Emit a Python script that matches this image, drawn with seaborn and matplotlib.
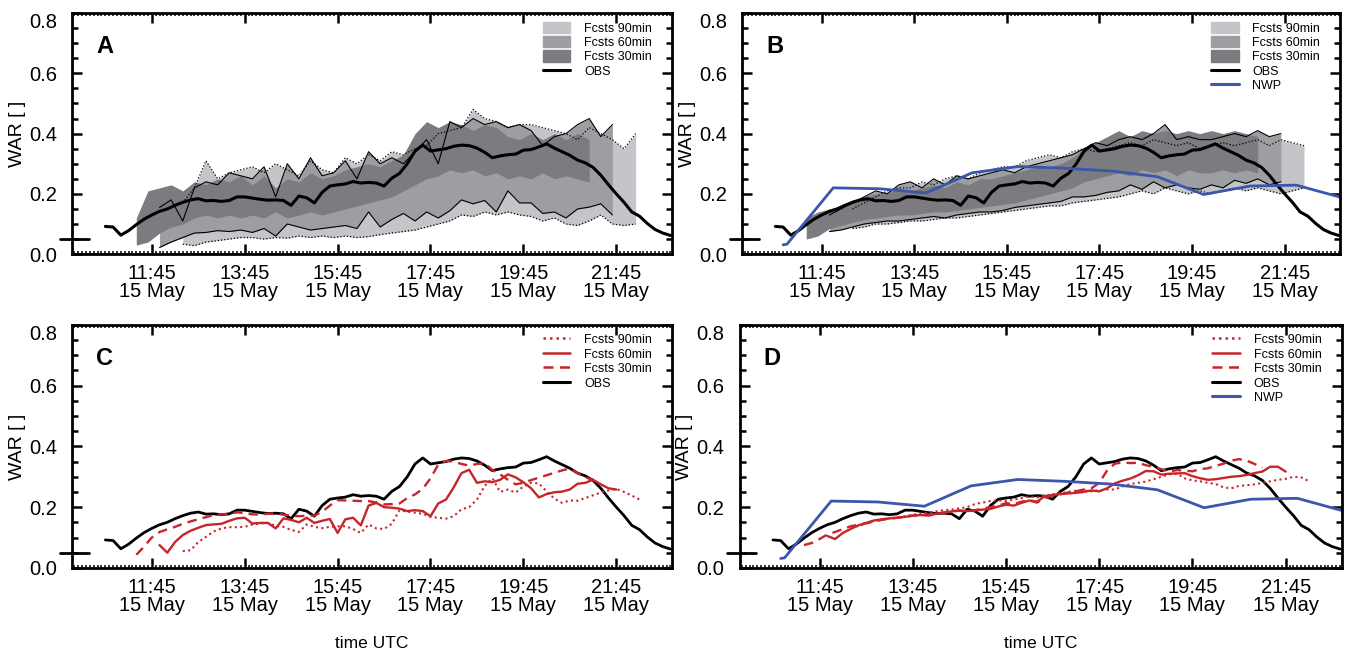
import pandas as pd
import matplotlib
matplotlib.use('Agg')
import matplotlib.pyplot as plt
import matplotlib.dates as mdates
from matplotlib.ticker import MultipleLocator
from matplotlib.patches import Patch
from matplotlib.lines import Line2D
import seaborn as sns

sns.set_style('ticks')
plt.rcParams['font.family'] = ['Liberation Sans', 'DejaVu Sans']
plt.rcParams['text.color'] = 'k'
plt.rcParams['axes.labelcolor'] = 'k'
plt.rcParams['xtick.color'] = 'k'
plt.rcParams['ytick.color'] = 'k'

DAY = '2013-05-15 '

# observed WAR, 10 min steps from 10:45
obs = [0.092, 0.090, 0.063, 0.078, 0.098, 0.116, 0.130, 0.142, 0.150, 0.162,
       0.172, 0.180, 0.184, 0.177, 0.178, 0.175, 0.178, 0.190, 0.190, 0.186,
       0.182, 0.179, 0.180, 0.178, 0.162, 0.193, 0.187, 0.170, 0.205, 0.226,
       0.230, 0.233, 0.241, 0.236, 0.238, 0.236, 0.226, 0.252, 0.268, 0.300,
       0.342, 0.362, 0.342, 0.346, 0.350, 0.358, 0.362, 0.360, 0.352, 0.338,
       0.320, 0.326, 0.330, 0.332, 0.345, 0.347, 0.356, 0.366, 0.352, 0.340,
       0.328, 0.312, 0.303, 0.288, 0.262, 0.230, 0.200, 0.172, 0.140, 0.126,
       0.102, 0.082, 0.070, 0.062]

# NWP (hourly)
nwp_times = ['10:55', '11:00', '12:00', '13:00', '14:00', '15:00', '16:00', '17:00',
             '18:00', '19:00', '20:00', '21:00', '22:00', '23:00']
nwp = [0.031, 0.033, 0.220, 0.217, 0.203, 0.270, 0.291, 0.285, 0.276, 0.257,
       0.198, 0.226, 0.229, 0.187]

# panel A ensemble ranges, 15 min steps (30min from 11:25, 60min from 11:55, 90min from 12:25)
a30_hi = [0.12, 0.21, 0.22, 0.23, 0.21, 0.24, 0.23, 0.25, 0.24, 0.26,
          0.23, 0.26, 0.22, 0.25, 0.24, 0.27, 0.25, 0.26, 0.28, 0.29,
          0.30, 0.29, 0.31, 0.33, 0.40, 0.44, 0.42, 0.44, 0.43, 0.41,
          0.43, 0.42, 0.39, 0.38, 0.40, 0.38, 0.40, 0.38, 0.40, 0.38]
a30_lo = [0.03, 0.04, 0.07, 0.09, 0.10, 0.12, 0.13, 0.12, 0.13, 0.12,
          0.13, 0.12, 0.14, 0.12, 0.13, 0.14, 0.13, 0.14, 0.15, 0.16,
          0.17, 0.18, 0.19, 0.21, 0.23, 0.25, 0.26, 0.28, 0.27, 0.28,
          0.26, 0.27, 0.25, 0.26, 0.25, 0.27, 0.25, 0.26, 0.25, 0.24]
a60_hi = [0.155, 0.18, 0.11, 0.22, 0.24, 0.23, 0.27, 0.26, 0.25, 0.29,
          0.19, 0.30, 0.25, 0.32, 0.26, 0.27, 0.31, 0.25, 0.34, 0.30,
          0.32, 0.30, 0.34, 0.38, 0.30, 0.44, 0.42, 0.45, 0.43, 0.44,
          0.42, 0.43, 0.41, 0.36, 0.39, 0.40, 0.43, 0.45, 0.39, 0.43]
a60_lo = [0.022, 0.04, 0.055, 0.07, 0.072, 0.078, 0.075, 0.08, 0.072, 0.085,
          0.06, 0.10, 0.09, 0.08, 0.085, 0.09, 0.095, 0.085, 0.14, 0.09,
          0.115, 0.135, 0.11, 0.14, 0.12, 0.144, 0.18, 0.167, 0.178, 0.14,
          0.21, 0.17, 0.17, 0.135, 0.14, 0.12, 0.15, 0.156, 0.167, 0.13]
a90_hi = [0.17, 0.22, 0.31, 0.25, 0.27, 0.28, 0.29, 0.27, 0.30, 0.28,
          0.26, 0.31, 0.28, 0.27, 0.32, 0.30, 0.33, 0.31, 0.34, 0.33,
          0.35, 0.36, 0.40, 0.41, 0.42, 0.48, 0.45, 0.44, 0.42, 0.43,
          0.43, 0.42, 0.41, 0.40, 0.38, 0.42, 0.40, 0.38, 0.35, 0.40]
a90_lo = [0.033, 0.028, 0.04, 0.045, 0.05, 0.055, 0.055, 0.05, 0.055, 0.053,
          0.06, 0.055, 0.06, 0.055, 0.06, 0.055, 0.058, 0.065, 0.07, 0.075,
          0.08, 0.09, 0.10, 0.11, 0.13, 0.125, 0.14, 0.13, 0.14, 0.13,
          0.125, 0.11, 0.12, 0.10, 0.095, 0.11, 0.13, 0.10, 0.095, 0.10]

# panel B ensemble ranges (with NWP blending)
b30_hi = [0.12, 0.14, 0.15, 0.16, 0.18, 0.19, 0.20, 0.20, 0.22, 0.21,
          0.22, 0.23, 0.22, 0.24, 0.23, 0.25, 0.25, 0.26, 0.27, 0.28,
          0.29, 0.29, 0.30, 0.32, 0.35, 0.37, 0.39, 0.41, 0.39, 0.41,
          0.40, 0.41, 0.40, 0.41, 0.40, 0.41, 0.40, 0.41, 0.40, 0.39]
b30_lo = [0.05, 0.06, 0.085, 0.095, 0.105, 0.115, 0.12, 0.125, 0.13, 0.13,
          0.135, 0.14, 0.14, 0.145, 0.15, 0.155, 0.16, 0.165, 0.17, 0.18,
          0.19, 0.20, 0.21, 0.22, 0.24, 0.25, 0.26, 0.27, 0.26, 0.28,
          0.27, 0.28, 0.26, 0.28, 0.27, 0.27, 0.28, 0.27, 0.28, 0.27]
b60_hi = [0.13, 0.15, 0.17, 0.19, 0.21, 0.20, 0.23, 0.24, 0.22, 0.25,
          0.23, 0.26, 0.25, 0.26, 0.27, 0.28, 0.27, 0.29, 0.30, 0.31,
          0.32, 0.33, 0.35, 0.37, 0.36, 0.38, 0.39, 0.38, 0.40, 0.43,
          0.38, 0.39, 0.38, 0.38, 0.39, 0.40, 0.39, 0.41, 0.39, 0.40]
b60_lo = [0.075, 0.08, 0.09, 0.10, 0.105, 0.11, 0.11, 0.115, 0.12, 0.125,
          0.12, 0.13, 0.135, 0.14, 0.14, 0.145, 0.155, 0.16, 0.165, 0.17,
          0.175, 0.19, 0.19, 0.195, 0.205, 0.21, 0.23, 0.215, 0.24, 0.22,
          0.23, 0.22, 0.215, 0.23, 0.22, 0.245, 0.235, 0.25, 0.23, 0.24]
b90_hi = [0.15, 0.17, 0.19, 0.21, 0.22, 0.22, 0.24, 0.23, 0.25, 0.26,
          0.25, 0.27, 0.28, 0.29, 0.29, 0.31, 0.32, 0.33, 0.32, 0.34,
          0.35, 0.34, 0.35, 0.36, 0.37, 0.36, 0.38, 0.37, 0.36, 0.37,
          0.35, 0.36, 0.37, 0.36, 0.37, 0.38, 0.36, 0.38, 0.37, 0.36]
b90_lo = [0.085, 0.09, 0.10, 0.10, 0.105, 0.11, 0.11, 0.115, 0.12, 0.12,
          0.125, 0.13, 0.135, 0.14, 0.145, 0.15, 0.155, 0.16, 0.16, 0.17,
          0.175, 0.18, 0.185, 0.19, 0.20, 0.21, 0.20, 0.22, 0.21, 0.20,
          0.21, 0.20, 0.21, 0.22, 0.21, 0.22, 0.21, 0.20, 0.21, 0.22]

# panel C mean forecasts, 10 min steps
c30 = [0.043, 0.070, 0.100, 0.118, 0.127, 0.135, 0.145, 0.153, 0.160, 0.167,
       0.174, 0.176, 0.178, 0.183, 0.180, 0.176, 0.176, 0.178, 0.180, 0.175,
       0.172, 0.170, 0.172, 0.172, 0.185, 0.205, 0.223, 0.222, 0.221, 0.220,
       0.220, 0.215, 0.209, 0.210, 0.212, 0.230, 0.242, 0.260, 0.295, 0.340,
       0.352, 0.350, 0.342, 0.337, 0.342, 0.345, 0.322, 0.308, 0.290, 0.275,
       0.280, 0.289, 0.297, 0.305, 0.313, 0.321, 0.327, 0.312, 0.298, 0.290]
c60 = [0.075, 0.050, 0.085, 0.108, 0.122, 0.132, 0.141, 0.143, 0.145, 0.155,
       0.163, 0.165, 0.146, 0.148, 0.148, 0.130, 0.163, 0.158, 0.150, 0.165,
       0.148, 0.155, 0.161, 0.115, 0.160, 0.165, 0.140, 0.205, 0.214, 0.200,
       0.198, 0.195, 0.187, 0.190, 0.187, 0.170, 0.212, 0.225, 0.265, 0.312,
       0.323, 0.280, 0.285, 0.282, 0.290, 0.308, 0.298, 0.282, 0.262, 0.232,
       0.243, 0.249, 0.251, 0.258, 0.277, 0.280, 0.290, 0.275, 0.262, 0.258]
c90 = [0.055, 0.058, 0.085, 0.102, 0.120, 0.130, 0.134, 0.134, 0.135, 0.143,
       0.146, 0.148, 0.138, 0.135, 0.125, 0.118, 0.143, 0.135, 0.131, 0.135,
       0.137, 0.137, 0.128, 0.115, 0.143, 0.130, 0.128, 0.145, 0.190, 0.185,
       0.182, 0.178, 0.168, 0.165, 0.162, 0.170, 0.193, 0.200, 0.225, 0.270,
       0.295, 0.250, 0.258, 0.248, 0.268, 0.280, 0.278, 0.252, 0.228, 0.214,
       0.222, 0.221, 0.230, 0.239, 0.248, 0.255, 0.260, 0.250, 0.238, 0.225]

# panel D mean forecasts (with NWP blending)
d30 = [0.075, 0.082, 0.095, 0.110, 0.118, 0.128, 0.137, 0.142, 0.147, 0.152,
       0.158, 0.162, 0.165, 0.168, 0.172, 0.174, 0.176, 0.178, 0.182, 0.186,
       0.188, 0.186, 0.190, 0.195, 0.200, 0.205, 0.213, 0.210, 0.218, 0.222,
       0.215, 0.230, 0.238, 0.242, 0.248, 0.252, 0.258, 0.262, 0.280, 0.320,
       0.343, 0.347, 0.345, 0.346, 0.338, 0.333, 0.325, 0.317, 0.322, 0.320,
       0.318, 0.325, 0.328, 0.336, 0.343, 0.353, 0.358, 0.353, 0.342, 0.330]
d60 = [0.105, 0.095, 0.115, 0.128, 0.140, 0.148, 0.156, 0.160, 0.163, 0.165,
       0.168, 0.172, 0.174, 0.172, 0.178, 0.182, 0.186, 0.189, 0.187, 0.189,
       0.192, 0.194, 0.202, 0.208, 0.205, 0.214, 0.222, 0.218, 0.236, 0.240,
       0.243, 0.245, 0.247, 0.250, 0.255, 0.252, 0.262, 0.278, 0.287, 0.294,
       0.305, 0.319, 0.318, 0.307, 0.310, 0.311, 0.312, 0.302, 0.295, 0.290,
       0.292, 0.296, 0.300, 0.302, 0.306, 0.312, 0.317, 0.333, 0.333, 0.317]
d90 = [0.133, 0.138, 0.145, 0.155, 0.160, 0.163, 0.167, 0.170, 0.175, 0.178,
       0.182, 0.186, 0.190, 0.192, 0.196, 0.200, 0.210, 0.215, 0.220, 0.222,
       0.220, 0.225, 0.230, 0.235, 0.232, 0.238, 0.242, 0.246, 0.250, 0.254,
       0.255, 0.252, 0.255, 0.258, 0.258, 0.268, 0.276, 0.280, 0.284, 0.292,
       0.300, 0.308, 0.310, 0.295, 0.288, 0.285, 0.280, 0.276, 0.265, 0.262,
       0.270, 0.272, 0.275, 0.280, 0.285, 0.290, 0.293, 0.300, 0.298, 0.285]

tick_hours = ['11:45', '13:45', '15:45', '17:45', '19:45', '21:45']
date_label = '15 May'
lead_labels = ['Fcsts 90min', 'Fcsts 60min', 'Fcsts 30min']

LIGHT, MED, DARK = '#c3c5c9', '#9c9ea2', '#7b7b80'
RED, BLUE = '#c8242b', '#3b56ab'
DOT = (0, (1, 1.6))
DASH = (0, (4, 2.6))


def t(start, n, step):
    return pd.date_range(DAY + start, periods=n, freq=step)


obs_t = t('10:45', len(obs), '10min')
nwp_t = pd.to_datetime([DAY + s for s in nwp_times])

fig = plt.figure(figsize=(13.47, 6.55), dpi=100)
axA = fig.add_axes([0.0535, 0.612, 0.4454, 0.368])
axB = fig.add_axes([0.551, 0.612, 0.4440, 0.368])
axC = fig.add_axes([0.0535, 0.133, 0.4454, 0.371])
axD = fig.add_axes([0.549, 0.133, 0.4470, 0.371])


def bands(ax, r30, r60, r90):
    t30 = t('11:25', len(r30[0]), '15min')
    t60 = t('11:55', len(r60[0]), '15min')
    t90 = t('12:25', len(r90[0]), '15min')
    ax.fill_between(t90, r90[1], r90[0], color=LIGHT, lw=0)
    ax.fill_between(t60, r60[1], r60[0], color=MED, lw=0)
    ax.fill_between(t30, r30[1], r30[0], color=DARK, lw=0)
    for y in r60:
        sns.lineplot(x=t60, y=y, ax=ax, color='k', lw=0.8)
    for y in r90:
        sns.lineplot(x=t90, y=y, ax=ax, color='k', lw=0.9, linestyle=DOT)


def means(ax, m30, m60, m90):
    sns.lineplot(x=t('12:25', len(m90), '10min'), y=m90, ax=ax, color=RED, lw=1.5, linestyle=DOT)
    sns.lineplot(x=t('11:55', len(m60), '10min'), y=m60, ax=ax, color=RED, lw=1.7)
    sns.lineplot(x=t('11:25', len(m30), '10min'), y=m30, ax=ax, color=RED, lw=1.7, linestyle=DASH)


def style(ax, letter, xlabel=False):
    ax.set_xlim(pd.Timestamp(DAY + '10:02'), pd.Timestamp(DAY + '22:57'))
    ax.set_ylim(0, 0.8)
    ax.set_yticks([0, 0.2, 0.4, 0.6, 0.8])
    ax.set_yticklabels(['0.0', '0.2', '0.4', '0.6', '0.8'])
    ax.yaxis.set_minor_locator(MultipleLocator(0.05))
    ax.set_xticks(mdates.date2num(pd.to_datetime([DAY + h for h in tick_hours])))
    ax.set_xticklabels([f'{h}\n{date_label}' for h in tick_hours], linespacing=0.95)
    ax.xaxis.set_minor_locator(mdates.MinuteLocator(byminute=range(0, 60, 5)))
    ax.tick_params(which='both', direction='in', top=True, right=True, color='k')
    ax.tick_params(which='major', length=7, width=1.8, labelsize=14.5)
    ax.tick_params(axis='x', which='major', pad=7)
    ax.tick_params(axis='y', which='major', pad=11)
    ax.tick_params(axis='x', which='minor', length=2.2, width=1.1)
    ax.tick_params(axis='y', which='minor', length=4, width=1.8)
    for s in ax.spines.values():
        s.set_linewidth(2)
        s.set_color('k')
    ax.set_ylabel('WAR [ ]', fontsize=14, labelpad=2)
    ax.set_xlabel('time UTC' if xlabel else '', fontsize=12.5, labelpad=15)
    ax.text(0.04, 0.86, letter, transform=ax.transAxes, fontsize=17,
            fontweight='bold', va='center', color='k')
    ax.plot([-0.02, 0.028], [0.05, 0.05], transform=ax.get_yaxis_transform(),
            color='k', lw=2, clip_on=False)
    yt = ax.yaxis.get_major_ticks()
    yt[-1].label1.set_va('top')


def legend(ax, handles, labels):
    ax.legend(handles, labels, loc='upper right', bbox_to_anchor=(0.975, 0.985),
              frameon=False, fontsize=9, handlelength=2.2, handleheight=1.0,
              labelspacing=0.12, handletextpad=1.1, borderaxespad=0)


# A
bands(axA, (a30_hi, a30_lo), (a60_hi, a60_lo), (a90_hi, a90_lo))
sns.lineplot(x=obs_t, y=obs, ax=axA, color='k', lw=2.2)
style(axA, 'A')
legend(axA, [Patch(color=LIGHT), Patch(color=MED), Patch(color=DARK),
             Line2D([], [], color='k', lw=2.2)], lead_labels + ['OBS'])

# B
bands(axB, (b30_hi, b30_lo), (b60_hi, b60_lo), (b90_hi, b90_lo))
sns.lineplot(x=obs_t, y=obs, ax=axB, color='k', lw=2.2)
sns.lineplot(x=nwp_t, y=nwp, ax=axB, color=BLUE, lw=2)
style(axB, 'B')
legend(axB, [Patch(color=LIGHT), Patch(color=MED), Patch(color=DARK),
             Line2D([], [], color='k', lw=2.2), Line2D([], [], color=BLUE, lw=2.2)],
       lead_labels + ['OBS', 'NWP'])

red_handles = [Line2D([], [], color=RED, lw=1.8, linestyle=DOT),
               Line2D([], [], color=RED, lw=1.8),
               Line2D([], [], color=RED, lw=1.8, linestyle=DASH)]

# C
sns.lineplot(x=obs_t, y=obs, ax=axC, color='k', lw=2)
means(axC, c30, c60, c90)
style(axC, 'C', xlabel=True)
legend(axC, red_handles + [Line2D([], [], color='k', lw=2.2)], lead_labels + ['OBS'])

# D
sns.lineplot(x=obs_t, y=obs, ax=axD, color='k', lw=2)
means(axD, d30, d60, d90)
sns.lineplot(x=nwp_t, y=nwp, ax=axD, color=BLUE, lw=2)
style(axD, 'D', xlabel=True)
legend(axD, red_handles + [Line2D([], [], color='k', lw=2.2), Line2D([], [], color=BLUE, lw=2.2)],
       lead_labels + ['OBS', 'NWP'])

fig.savefig('out.png', dpi=100)
